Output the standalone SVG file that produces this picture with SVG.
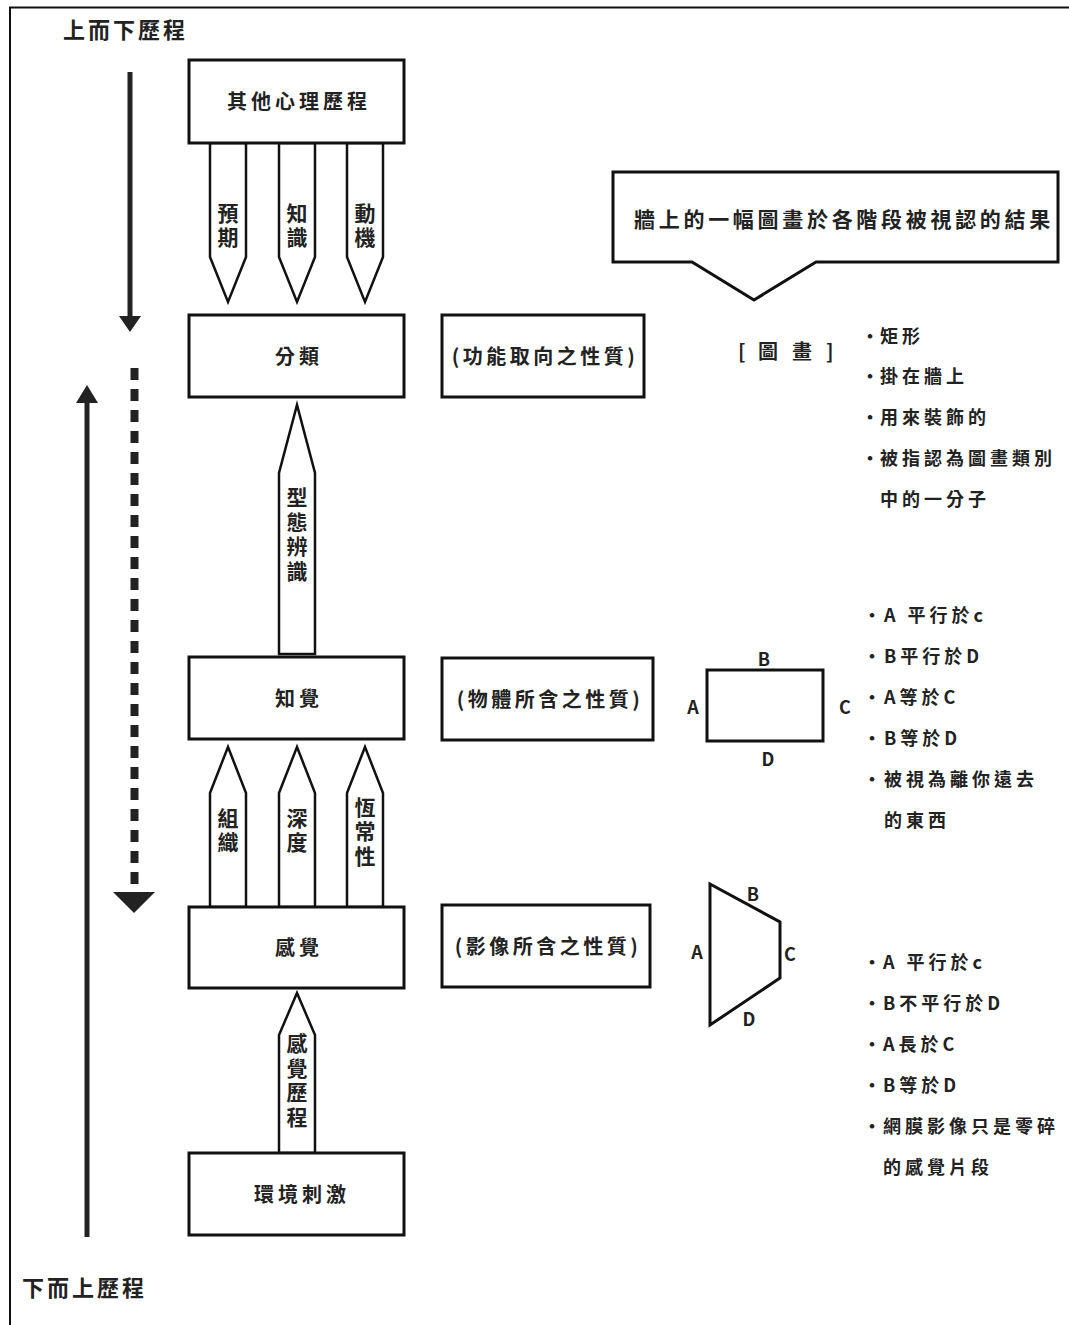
<svg xmlns="http://www.w3.org/2000/svg" width="1069" height="1325" viewBox="0 0 1069 1325">
<style>
text{font-family:"Noto Sans CJK TC","Noto Sans CJK SC",sans-serif;font-weight:700;fill:#222;}
.box{fill:#fff;stroke:#111;stroke-width:3;}
.pent{fill:#fff;stroke:#111;stroke-width:2.5;stroke-linejoin:miter;}
.lbl{font-size:20px;letter-spacing:4px;text-anchor:middle;dominant-baseline:central;}
.vl{font-size:21px;letter-spacing:3.5px;text-anchor:middle;writing-mode:vertical-rl;text-orientation:upright;}
.prop{font-size:20px;letter-spacing:3.5px;text-anchor:middle;dominant-baseline:central;}
.bul{font-size:18px;letter-spacing:4px;dominant-baseline:central;}
.dot{letter-spacing:0;}
.ltr{font-size:18px;text-anchor:middle;dominant-baseline:central;}
.title{font-size:22px;letter-spacing:3px;dominant-baseline:central;}
</style>

<!-- frame -->
<path d="M10,1325 L10,7.5 L1069,7.5" fill="none" stroke="#111" stroke-width="2"/>

<!-- titles -->
<text class="title" x="63" y="28">上而下歷程</text>
<text class="title" x="22" y="1286">下而上歷程</text>

<g id="connectors">
  <!-- top-down arrow -->
  <line x1="130" y1="72" x2="130" y2="320" stroke="#222" stroke-width="5"/>
  <polygon points="119,316 141,316 130,332" fill="#222"/>
  <!-- dashed down arrow -->
  <line x1="134.5" y1="368" x2="134.5" y2="894" stroke="#222" stroke-width="8" stroke-dasharray="12,9"/>
  <polygon points="113,892 155,892 134,913" fill="#222"/>
  <!-- bottom-up arrow -->
  <line x1="87" y1="1237" x2="87" y2="400" stroke="#222" stroke-width="5"/>
  <polygon points="76,403 98,403 87,385" fill="#222"/>
</g>

<!-- pentagon arrows: top-down -->
<g id="arrow-yuqi">
  <polygon class="pent" points="210,143 246,143 246,257 228,302 210,257"/>
  <text class="vl" x="228" y="227">預期</text>
</g>
<g id="arrow-zhishi">
  <polygon class="pent" points="279,143 315,143 315,257 297,302 279,257"/>
  <text class="vl" x="297" y="227">知識</text>
</g>
<g id="arrow-dongji">
  <polygon class="pent" points="347,143 383,143 383,257 365,302 347,257"/>
  <text class="vl" x="365" y="227">動機</text>
</g>

<!-- pattern recognition -->
<g id="arrow-xingtai">
  <polygon class="pent" points="279,654 315,654 315,473 297,405 279,473"/>
  <text class="vl" x="297" y="536">型態辨識</text>
</g>

<!-- up arrows between perception and sensation -->
<g id="arrow-zuzhi">
  <polygon class="pent" points="210,907 246,907 246,793 228,747 210,793"/>
  <text class="vl" x="228" y="832">組織</text>
</g>
<g id="arrow-shendu">
  <polygon class="pent" points="279,907 315,907 315,793 297,747 279,793"/>
  <text class="vl" x="297" y="832">深度</text>
</g>
<g id="arrow-hengchang">
  <polygon class="pent" points="347,907 383,907 383,793 365,747 347,793"/>
  <text class="vl" x="365" y="833">恆常性</text>
</g>

<!-- sensory process -->
<g id="arrow-ganjue">
  <polygon class="pent" points="279,1153 315,1153 315,1035 297,993 279,1035"/>
  <text class="vl" x="297" y="1082">感覺歷程</text>
</g>

<!-- main boxes -->
<g id="node-other">
  <rect class="box" x="189" y="60" width="215" height="83"/>
  <text class="lbl" x="299" y="100">其他心理歷程</text>
</g>
<g id="node-classify">
  <rect class="box" x="189" y="315" width="215" height="82"/>
  <text class="lbl" x="299" y="355">分類</text>
</g>
<g id="node-perception">
  <rect class="box" x="189" y="657" width="215" height="82"/>
  <text class="lbl" x="299" y="697">知覺</text>
</g>
<g id="node-sensation">
  <rect class="box" x="189" y="907" width="215" height="81"/>
  <text class="lbl" x="299" y="946">感覺</text>
</g>
<g id="node-env">
  <rect class="box" x="189" y="1153" width="215" height="82"/>
  <text class="lbl" x="302" y="1193">環境刺激</text>
</g>

<!-- property boxes -->
<g id="prop-function">
  <rect class="box" x="442" y="315" width="202" height="82"/>
  <text class="prop" x="545" y="355">(功能取向之性質)</text>
</g>
<g id="prop-object">
  <rect class="box" x="442" y="658" width="211" height="82"/>
  <text class="prop" x="550" y="698">(物體所含之性質)</text>
</g>
<g id="prop-image">
  <rect class="box" x="442" y="905" width="208" height="82"/>
  <text class="prop" x="548" y="945">(影像所含之性質)</text>
</g>

<!-- callout -->
<g id="callout">
  <polygon class="box" points="613,172 1058,172 1058,262 816,262 754,300 692,262 613,262"/>
  <text x="844" y="218" style="font-size:21px;letter-spacing:3.7px;text-anchor:middle;dominant-baseline:central">牆上的一幅圖畫於各階段被視認的結果</text>
</g>

<!-- picture label and bullets -->
<g id="picture-notes">
  <text x="738" y="350" style="font-size:20px;dominant-baseline:central"><tspan x="738">[</tspan><tspan x="758">圖</tspan><tspan x="792">畫</tspan><tspan x="826">]</tspan></text>
  <text class="bul" y="335"><tspan class="dot" x="861">・</tspan><tspan x="880">矩形</tspan></text>
  <text class="bul" y="375"><tspan class="dot" x="861">・</tspan><tspan x="880">掛在牆上</tspan></text>
  <text class="bul" y="416"><tspan class="dot" x="861">・</tspan><tspan x="880">用來裝飾的</tspan></text>
  <text class="bul" y="457"><tspan class="dot" x="861">・</tspan><tspan x="880">被指認為圖畫類別</tspan></text>
  <text class="bul" x="880" y="498">中的一分子</text>
</g>

<!-- rectangle shape -->
<g id="shape-rect">
  <rect x="707" y="670" width="116" height="71" fill="none" stroke="#111" stroke-width="3"/>
  <text class="ltr" x="764" y="658">B</text>
  <text class="ltr" x="693" y="706">A</text>
  <text class="ltr" x="845" y="706">C</text>
  <text class="ltr" x="768" y="758">D</text>
</g>
<g id="rect-notes">
  <text class="bul" y="614"><tspan class="dot" x="863">・</tspan><tspan x="884">A 平行於c</tspan></text>
  <text class="bul" y="655"><tspan class="dot" x="863">・</tspan><tspan x="884">B平行於D</tspan></text>
  <text class="bul" y="696"><tspan class="dot" x="863">・</tspan><tspan x="884">A等於C</tspan></text>
  <text class="bul" y="737"><tspan class="dot" x="863">・</tspan><tspan x="884">B等於D</tspan></text>
  <text class="bul" y="778"><tspan class="dot" x="863">・</tspan><tspan x="884">被視為離你遠去</tspan></text>
  <text class="bul" x="884" y="819">的東西</text>
</g>

<!-- trapezoid shape -->
<g id="shape-trap">
  <polygon points="710,884 780,922 780,978 710,1025" fill="none" stroke="#111" stroke-width="3" stroke-linejoin="miter"/>
  <text class="ltr" x="753" y="893">B</text>
  <text class="ltr" x="697" y="951">A</text>
  <text class="ltr" x="790" y="953">C</text>
  <text class="ltr" x="749" y="1018">D</text>
</g>
<g id="trap-notes">
  <text class="bul" y="961"><tspan class="dot" x="863">・</tspan><tspan x="883">A 平行於c</tspan></text>
  <text class="bul" y="1002"><tspan class="dot" x="863">・</tspan><tspan x="883">B不平行於D</tspan></text>
  <text class="bul" y="1043"><tspan class="dot" x="863">・</tspan><tspan x="883">A長於C</tspan></text>
  <text class="bul" y="1084"><tspan class="dot" x="863">・</tspan><tspan x="883">B等於D</tspan></text>
  <text class="bul" y="1125"><tspan class="dot" x="863">・</tspan><tspan x="883">網膜影像只是零碎</tspan></text>
  <text class="bul" x="883" y="1166">的感覺片段</text>
</g>
</svg>
